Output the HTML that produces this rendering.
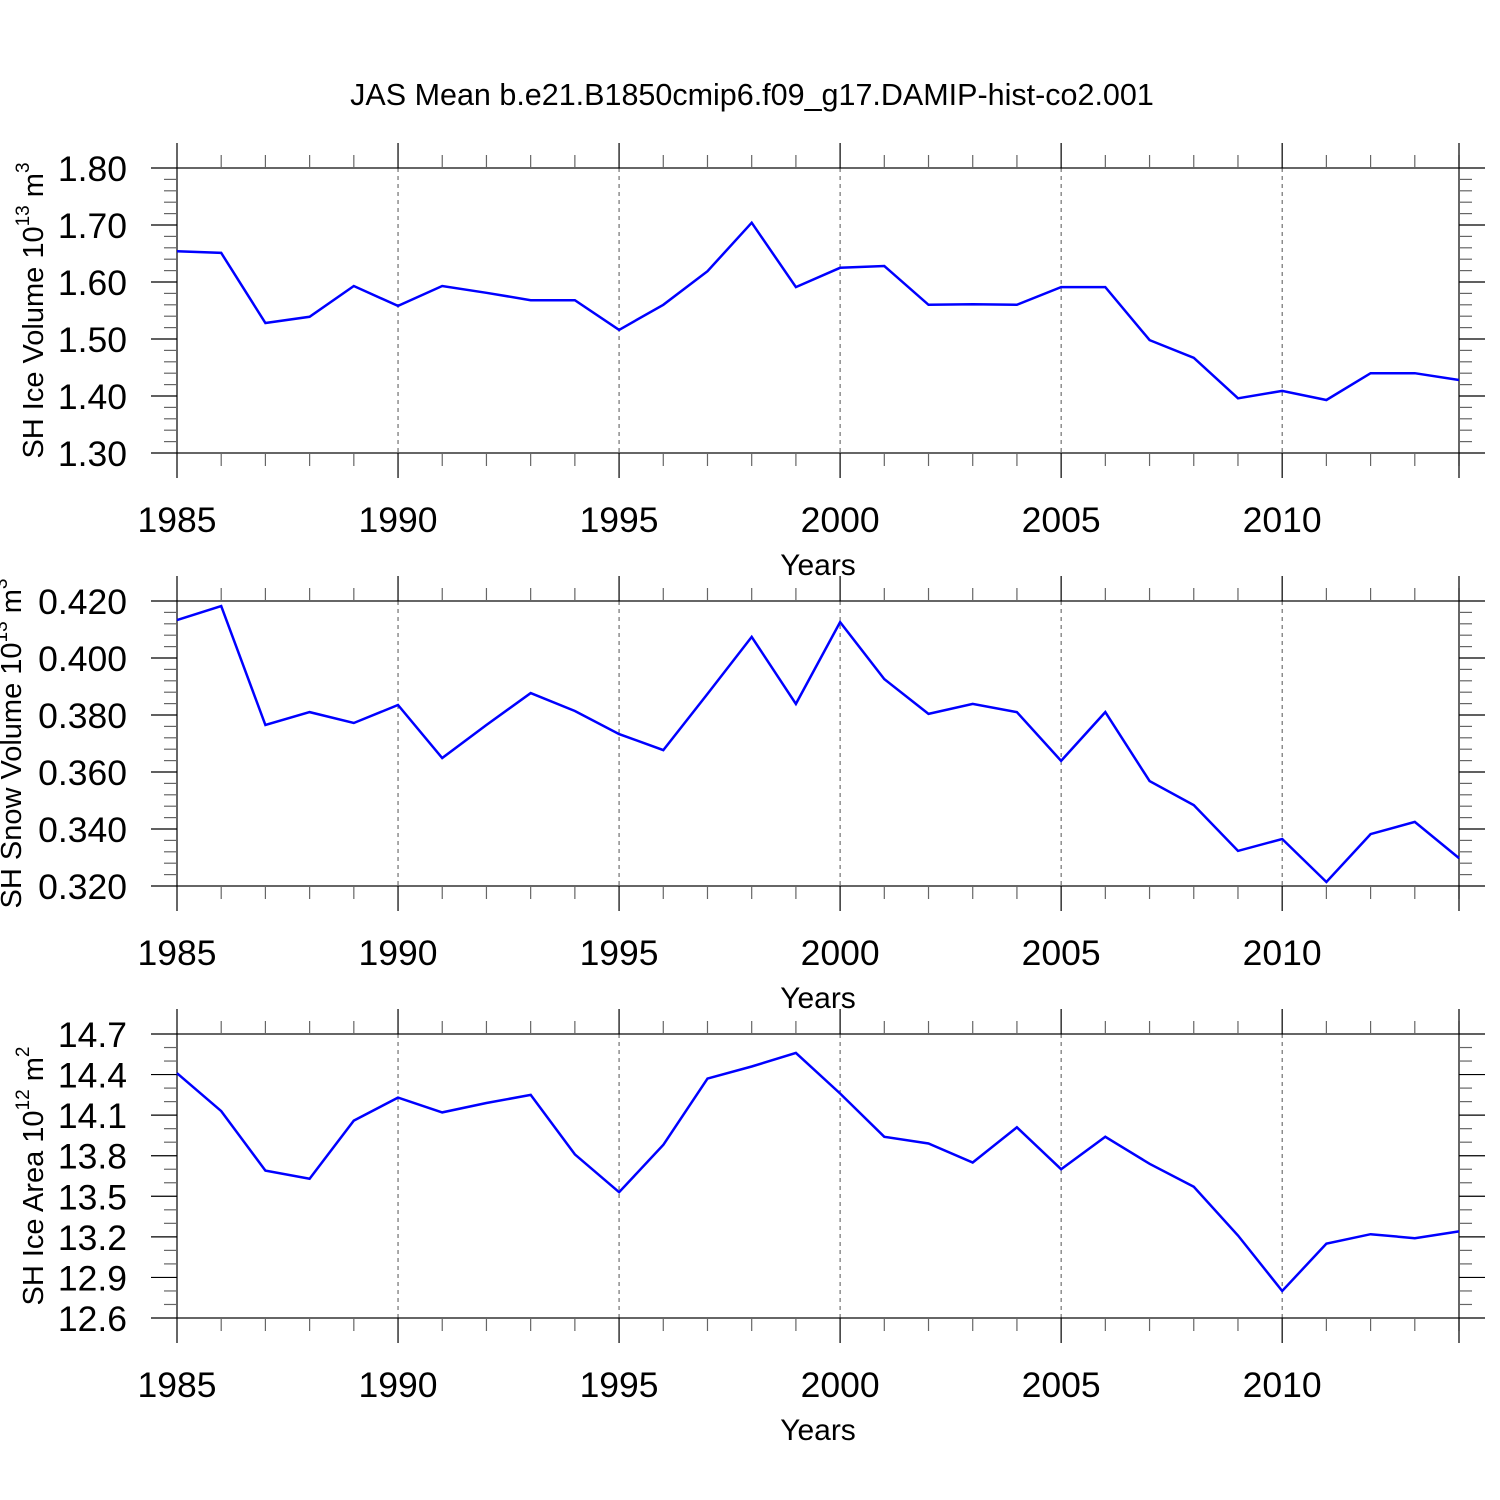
<!DOCTYPE html>
<html><head><meta charset="utf-8"><style>
html,body{margin:0;padding:0;background:#fff}
svg{display:block;font-family:"Liberation Sans",sans-serif}
</style></head><body>
<svg id="chart" width="1500" height="1500" viewBox="0 0 1500 1500" xmlns="http://www.w3.org/2000/svg">
<text x="752" y="105" font-size="30.5" text-anchor="middle">JAS Mean b.e21.B1850cmip6.f09_g17.DAMIP-hist-co2.001</text>
</svg>
<script>
const years = [1985,1986,1987,1988,1989,1990,1991,1992,1993,1994,1995,1996,1997,1998,1999,2000,2001,2002,2003,2004,2005,2006,2007,2008,2009,2010,2011,2012,2013,2014];
const iceVolume = [1.654,1.651,1.528,1.539,1.593,1.558,1.593,1.581,1.568,1.568,1.516,1.560,1.619,1.704,1.591,1.625,1.628,1.560,1.561,1.560,1.591,1.591,1.498,1.467,1.396,1.409,1.393,1.440,1.440,1.428];
const snowVolume = [0.4133,0.4182,0.3765,0.381,0.3772,0.3835,0.3649,0.3765,0.3877,0.3814,0.3733,0.3677,0.3874,0.4074,0.3839,0.4126,0.3926,0.3804,0.3839,0.381,0.3639,0.381,0.3568,0.3484,0.3323,0.3365,0.3214,0.3382,0.3425,0.3298];
const iceArea = [14.41,14.13,13.69,13.63,14.06,14.23,14.12,14.19,14.25,13.81,13.53,13.88,14.37,14.46,14.56,14.26,13.94,13.89,13.75,14.01,13.70,13.94,13.74,13.57,13.21,12.80,13.15,13.22,13.19,13.24];
const xTicks = [1985,1990,1995,2000,2005,2010];
const iceVolTicks = ["1.30","1.40","1.50","1.60","1.70","1.80"];
const snowTicks = ["0.320","0.340","0.360","0.380","0.400","0.420"];
const areaTicks = ["12.6","12.9","13.2","13.5","13.8","14.1","14.4","14.7"];

const NS="http://www.w3.org/2000/svg";
const svg=document.getElementById('chart');
function mk(tag,attrs,parent){const e=document.createElementNS(NS,tag);for(const k in attrs)e.setAttribute(k,attrs[k]);(parent||svg).appendChild(e);return e;}
const X0=177,X1=1459;
const xs=y=>X0+(y-1985)/(2014-1985)*(X1-X0);

function panel(key,top,bot,ticks,minorStep,values,title,sup,unit,titleX){
  const g=mk('g',{});
  
  
  const vmin=parseFloat(ticks[0]),vmax=parseFloat(ticks[ticks.length-1]);
  const ys=v=>bot-(v-vmin)/(vmax-vmin)*(bot-top);
  xTicks.forEach(t=>{ if(t===1985)return;
    const l=mk('line',{x1:xs(t),x2:xs(t),y1:top,y2:bot,stroke:'#555','stroke-width':1,'stroke-dasharray':'4,4'},g);
    
    
  });
  const fr=mk('rect',{x:X0,y:top,width:X1-X0,height:bot-top,fill:'none',stroke:'#000','stroke-width':1.2},g);
  
  
  years.forEach(yr=>{
    const major=xTicks.includes(yr);const L=major?25:13;const x=xs(yr);
    mk('line',{x1:x,x2:x,y1:top-L,y2:top,stroke:major?'#000':'#666','stroke-width':1.2},g);
    mk('line',{x1:x,x2:x,y1:bot,y2:bot+L,stroke:major?'#000':'#666','stroke-width':1.2},g);
  });
  mk('line',{x1:X1,x2:X1,y1:top-25,y2:top,stroke:'#000','stroke-width':1.2},g);
  mk('line',{x1:X1,x2:X1,y1:bot,y2:bot+25,stroke:'#000','stroke-width':1.2},g);
  xTicks.forEach(t=>{
    const tx=mk('text',{x:xs(t),y:bot+79,'font-size':35.5,'text-anchor':'middle'},g);
    
    
    tx.textContent=t;
  });
  const xt=mk('text',{x:818,y:bot+122,'font-size':30,'text-anchor':'middle'},g);
  
  
  xt.textContent='Years';
  const n=Math.round((vmax-vmin)/minorStep);
  for(let i=0;i<=n;i++){
    const v=vmin+i*minorStep;const y=ys(v);
    const major=ticks.some(t=>Math.abs(parseFloat(t)-v)<1e-6);const L=major?26:13;
    mk('line',{x1:X0-L,x2:X0,y1:y,y2:y,stroke:major?'#000':'#666','stroke-width':1.2},g);
    mk('line',{x1:X1,x2:X1+L,y1:y,y2:y,stroke:major?'#000':'#666','stroke-width':1.2},g);
  }
  ticks.forEach(t=>{
    const tx=mk('text',{x:127,y:ys(parseFloat(t))+13,'font-size':35.5,'text-anchor':'end'},g);
    
    
    tx.textContent=t;
  });
  const yt=mk('text',{transform:`translate(${titleX},${(top+bot)/2}) rotate(-90)`,'font-size':29,'text-anchor':'middle'},g);
  
  
  yt.innerHTML=title+' 10<tspan font-size="19" dy="-14">'+sup+'</tspan><tspan dy="14"> m</tspan><tspan font-size="19" dy="-14">'+unit+'</tspan>';
  const pts=years.map((yr,i)=>xs(yr).toFixed(1)+','+ys(values[i]).toFixed(1)).join(' ');
  const pl=mk('polyline',{points:pts,fill:'none',stroke:'#0000ff','stroke-width':2.5,'stroke-linejoin':'miter'},g);
  
  
}
panel('ice-volume',168,453,iceVolTicks,0.02,iceVolume,'SH Ice Volume','13','3',43);
panel('snow-volume',601,886,snowTicks,0.004,snowVolume,'SH Snow Volume','13','3',21);
panel('ice-area',1034,1318,areaTicks,0.1,iceArea,'SH Ice Area','12','2',43);
</script>
</body></html>
